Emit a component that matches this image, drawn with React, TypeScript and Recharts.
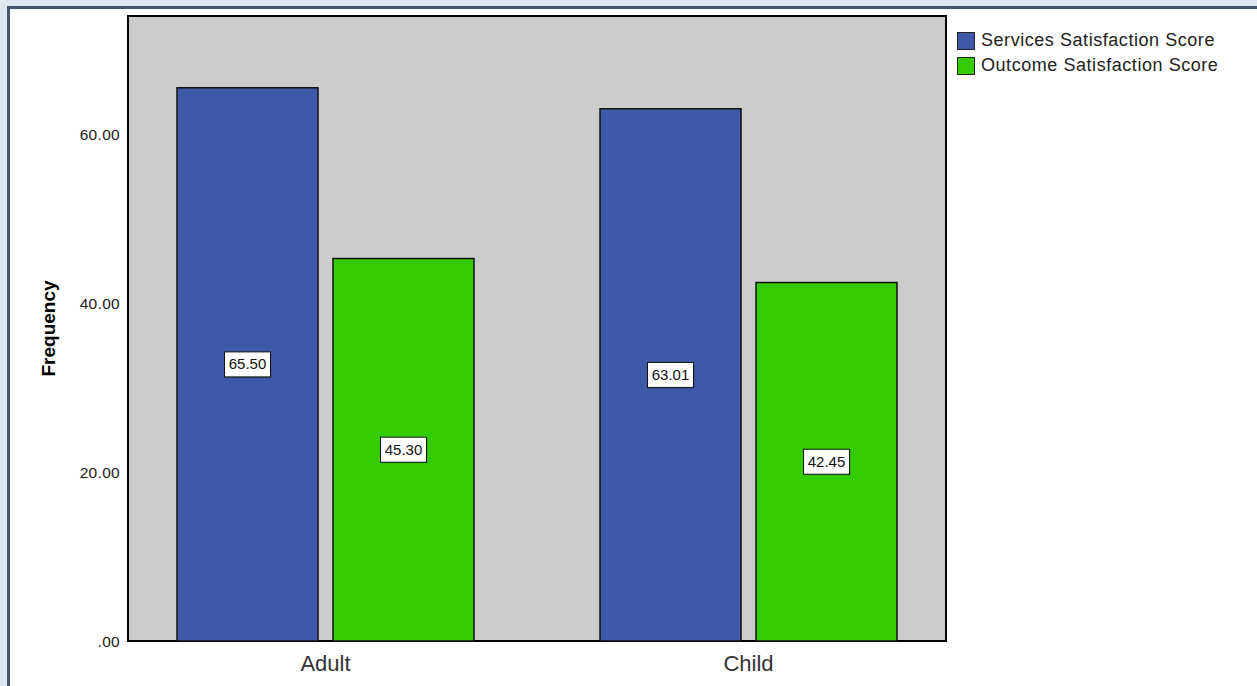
import React from "react";
import {
  Bar,
  BarChart,
  CartesianGrid,
  Legend,
  XAxis,
  YAxis,
  usePlotArea,
} from "recharts";

const groups = ["Adult", "Child"];
const servicesScores = [65.5, 63.01];
const outcomeScores = [45.3, 42.45];
const yTicks = [0, 20, 40, 60];

const data = groups.map((g, i) => ({
  group: g,
  services: servicesScores[i],
  outcome: outcomeScores[i],
}));

const BLUE = "#3e59a8";
const GREEN = "#33cc00";
const FONT = "'Liberation Sans', Arial, sans-serif";

const fmt = (v: number) => (v === 0 ? ".00" : v.toFixed(2));

function ValueLabel(props: any) {
  const { x, y, width, height, value } = props;
  const cx = x + width / 2;
  const cy = y + height / 2;
  const text = Number(value).toFixed(2);
  const w = 46;
  const h = 25;
  return (
    <g>
      <rect x={cx - w / 2 + 1} y={cy - h / 2 + 1} width={w} height={h} fill="#333" opacity={0.35} />
      <rect x={cx - w / 2} y={cy - h / 2} width={w} height={h} fill="#fff" stroke="#111" strokeWidth={1} />
      <text x={cx} y={cy + 5} textAnchor="middle" fontSize={15} fontFamily={FONT} fill="#111">
        {text}
      </text>
    </g>
  );
}

// black border round the plot area
function PlotFrame() {
  const area = usePlotArea();
  if (!area) return null;
  return (
    <rect
      x={area.x}
      y={area.y}
      width={area.width}
      height={area.height}
      fill="none"
      stroke="#000"
      strokeWidth={2}
    />
  );
}

function LegendBox() {
  const items = [
    { label: "Services Satisfaction Score", color: BLUE },
    { label: "Outcome Satisfaction Score", color: GREEN },
  ];
  return (
    <div style={{ fontFamily: FONT }}>
      {items.map((it) => (
        <div key={it.label} style={{ display: "flex", alignItems: "center", height: 25 }}>
          <span
            style={{
              width: 16,
              height: 16,
              background: it.color,
              border: "1.5px solid #222",
              marginRight: 6,
              display: "inline-block",
            }}
          />
          <span style={{ fontSize: 18, letterSpacing: 0.55, color: "#222" }}>{it.label}</span>
        </div>
      ))}
    </div>
  );
}

export default function App() {
  return (
    <div
      style={{
        position: "absolute",
        left: 0,
        top: 0,
        width: 1257,
        height: 686,
        background: "#dde6f0",
        overflow: "hidden",
      }}
    >
      <div
        style={{
          position: "absolute",
          left: 7,
          top: 6,
          width: 1270,
          height: 700,
          borderLeft: "3px solid #46576d",
          borderTop: "3px solid #46576d",
          background: "#fff",
        }}
      />
      <div style={{ position: "absolute", left: 0, top: 0 }}>
        <BarChart
          width={1257}
          height={686}
          data={data}
          margin={{ top: 16, right: 21, bottom: 0, left: 68 }}
          barGap={15}
        >
          <CartesianGrid fill="#cccccc" horizontal={false} vertical={false} />
          <XAxis
            dataKey="group"
            height={45}
            padding={{ left: -14, right: -14 }}
            axisLine={false}
            tickLine={false}
            tick={{ fontSize: 22, fill: "#333", fontFamily: FONT }}
            tickMargin={8}
          />
          <YAxis
            domain={[0, 74]}
            ticks={yTicks}
            width={60}
            tickFormatter={fmt}
            axisLine={false}
            tickLine={false}
            tickMargin={2}
            tick={{ fontSize: 15.5, fill: "#222", fontFamily: FONT, letterSpacing: 0.3 }}
            label={{
              value: "Frequency",
              angle: -90,
              position: "insideLeft",
              offset: -20,
              style: { fontSize: 19, fontWeight: "bold", fill: "#000", fontFamily: FONT, textAnchor: "middle" },
            }}
          />
          <Legend
            content={<LegendBox />}
            layout="vertical"
            verticalAlign="top"
            align="right"
            wrapperStyle={{ left: 957, top: 28, width: 290 }}
          />
          <Bar
            dataKey="services"
            name="Services Satisfaction Score"
            fill={BLUE}
            stroke="#111"
            strokeWidth={1.5}
            barSize={141}
            isAnimationActive={false}
            label={<ValueLabel />}
          />
          <Bar
            dataKey="outcome"
            name="Outcome Satisfaction Score"
            fill={GREEN}
            stroke="#111"
            strokeWidth={1.5}
            barSize={141}
            isAnimationActive={false}
            label={<ValueLabel />}
          />
          <PlotFrame />
        </BarChart>
      </div>
    </div>
  );
}
